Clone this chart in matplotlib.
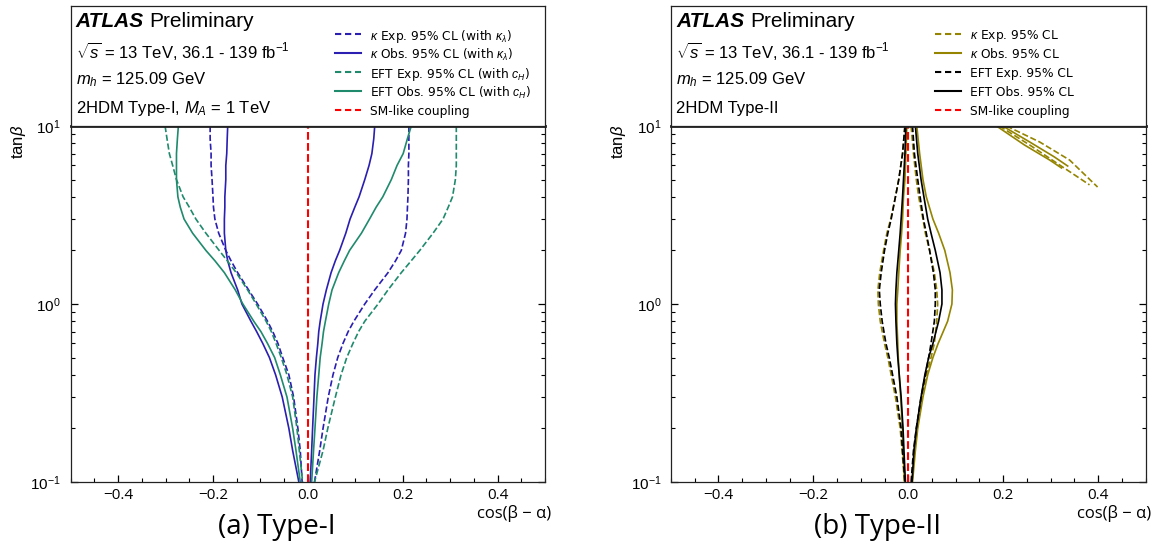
import matplotlib
matplotlib.use("Agg")
import matplotlib.pyplot as plt
from matplotlib.lines import Line2D
from matplotlib.ticker import MultipleLocator, LogLocator, NullFormatter, FixedLocator

plt.rcParams['font.family'] = ['DejaVu Sans']
plt.rcParams['mathtext.fontset'] = 'custom'
plt.rcParams['mathtext.rm'] = 'Liberation Sans'
plt.rcParams['mathtext.it'] = 'Liberation Sans:italic'
plt.rcParams['mathtext.bf'] = 'Liberation Sans:bold'
plt.rcParams['axes.unicode_minus'] = True

NARROW = ['Open Sans', 'DejaVu Sans']

# ---------------- data ----------------
# Type-I
tanb1 = [10, 8.5, 7, 6, 5, 4, 3.5, 3, 2.5, 2, 1.75, 1.5, 1.2, 1, 0.8, 0.7, 0.6, 0.5,
         0.4, 0.3, 0.2, 0.15, 0.1]
t1_kexp_lo = [-0.206, -0.206, -0.204, -0.204, -0.202, -0.200, -0.199, -0.196, -0.188, -0.173,
              -0.162, -0.148, -0.125, -0.106, -0.085, -0.074, -0.063, -0.053, -0.040, -0.030,
              -0.021, -0.016, -0.012]
t1_kexp_hi = [0.213, 0.213, 0.213, 0.212, 0.212, 0.211, 0.210, 0.209, 0.206, 0.197,
              0.185, 0.169, 0.141, 0.120, 0.097, 0.085, 0.074, 0.063, 0.053, 0.043,
              0.032, 0.025, 0.014]
t1_kobs_lo = [-0.169, -0.170, -0.171, -0.173, -0.173, -0.175, -0.175, -0.176, -0.176, -0.173,
              -0.169, -0.162, -0.148, -0.139, -0.120, -0.108, -0.095, -0.081, -0.068, -0.054,
              -0.040, -0.032, -0.019]
t1_kobs_hi = [0.141, 0.139, 0.135, 0.129, 0.120, 0.108, 0.099, 0.089, 0.080, 0.067,
              0.058, 0.049, 0.039, 0.032, 0.026, 0.023, 0.021, 0.018, 0.015, 0.013,
              0.010, 0.008, 0.005]
t1_eexp_lo = [-0.301, -0.297, -0.292, -0.285, -0.277, -0.263, -0.250, -0.236, -0.215, -0.187,
              -0.170, -0.151, -0.127, -0.109, -0.088, -0.077, -0.067, -0.056, -0.044, -0.032,
              -0.023, -0.018, -0.011]
t1_eexp_hi = [0.313, 0.313, 0.313, 0.313, 0.311, 0.305, 0.296, 0.285, 0.264, 0.236,
              0.218, 0.197, 0.169, 0.148, 0.120, 0.107, 0.095, 0.082, 0.070, 0.058,
              0.042, 0.032, 0.014]
t1_eobs_lo = [-0.273, -0.275, -0.277, -0.277, -0.277, -0.274, -0.269, -0.261, -0.243, -0.215,
              -0.196, -0.176, -0.153, -0.137, -0.114, -0.099, -0.085, -0.070, -0.058, -0.044,
              -0.032, -0.025, -0.016]
t1_eobs_hi = [0.218, 0.210, 0.201, 0.188, 0.176, 0.158, 0.144, 0.130, 0.113, 0.088,
              0.077, 0.065, 0.051, 0.044, 0.037, 0.033, 0.030, 0.026, 0.023, 0.019,
              0.015, 0.012, 0.008]

# Type-II
tanb2 = [10, 7, 5, 4, 3, 2.5, 2, 1.5, 1.2, 1, 0.8, 0.6, 0.5, 0.4, 0.3, 0.2, 0.15, 0.1]
t2_kexp_lo = [-0.007, -0.012, -0.020, -0.027, -0.037, -0.045, -0.052, -0.060, -0.064, -0.063,
              -0.059, -0.050, -0.043, -0.036, -0.027, -0.017, -0.013, -0.008]
t2_kexp_hi = [0.006, 0.011, 0.017, 0.022, 0.031, 0.036, 0.045, 0.055, 0.060, 0.062,
              0.060, 0.055, 0.048, 0.038, 0.029, 0.019, 0.013, 0.008]
t2_kobs_lo = [-0.003, -0.005, -0.007, -0.010, -0.012, -0.014, -0.017, -0.020, -0.022, -0.024,
              -0.024, -0.022, -0.021, -0.019, -0.016, -0.012, -0.011, -0.008]
t2_kobs_hi = [0.018, 0.024, 0.031, 0.038, 0.052, 0.064, 0.077, 0.088, 0.093, 0.092,
              0.083, 0.063, 0.052, 0.041, 0.031, 0.020, 0.015, 0.009]
t2_eexp_lo = [-0.007, -0.012, -0.020, -0.027, -0.036, -0.043, -0.050, -0.057, -0.061, -0.059,
              -0.055, -0.047, -0.040, -0.033, -0.024, -0.015, -0.012, -0.007]
t2_eexp_hi = [0.009, 0.013, 0.020, 0.025, 0.032, 0.038, 0.045, 0.053, 0.057, 0.057,
              0.055, 0.048, 0.043, 0.036, 0.027, 0.017, 0.011, 0.006]
t2_eobs_lo = [-0.005, -0.007, -0.010, -0.012, -0.015, -0.017, -0.020, -0.024, -0.026, -0.027,
              -0.026, -0.024, -0.022, -0.019, -0.015, -0.011, -0.009, -0.006]
t2_eobs_hi = [0.015, 0.020, 0.027, 0.033, 0.041, 0.048, 0.057, 0.067, 0.071, 0.071,
              0.064, 0.052, 0.043, 0.035, 0.027, 0.017, 0.012, 0.008]

# Type-II, isolated allowed band at large cos(beta-alpha)
t2_kexp_a_x = [0.207, 0.277, 0.340, 0.399]
t2_kexp_a_y = [10.0, 8.13, 6.44, 4.54]
t2_kexp_b_x = [0.192, 0.256, 0.319, 0.382]
t2_kexp_b_y = [10.0, 7.82, 6.04, 4.67]
t2_kobs_a_x = [0.186, 0.245, 0.298, 0.323]
t2_kobs_a_y = [10.0, 7.82, 6.44, 5.81]
t2_kobs_b_x = [0.199, 0.256, 0.308, 0.336]
t2_kobs_b_y = [10.0, 8.13, 6.70, 5.96]

sm_x = [0.0, 0.0]
sm_y = [0.1, 10]

BLUE = '#2a1fb0'
GREEN = '#1f8a6c'
GOLD = '#948400'
BLACK = 'black'
RED = 'red'
LW = 1.2

# ---------------- figure ----------------
fig = plt.figure(figsize=(11.61, 5.45), dpi=100)

W, H = 1161.0, 545.0


def frac_rect(x0, y0, x1, y1):
    return [x0 / W, 1 - y1 / H, (x1 - x0) / W, (y1 - y0) / H]


panels = [
    dict(left=70.7, right=545.0, caption='(a) Type-I', cap_x=277,
         model='2HDM Type-I, $M_A$ = 1 TeV',
         labels=[r'$\kappa$ Exp. 95% CL (with $\kappa_{\lambda}$)',
                 r'$\kappa$ Obs. 95% CL (with $\kappa_{\lambda}$)',
                 r'EFT Exp. 95% CL (with $c_H$)',
                 r'EFT Obs. 95% CL (with $c_H$)',
                 'SM-like coupling'],
         colors=[BLUE, BLUE, GREEN, GREEN, RED],
         styles=['--', '-', '--', '-', '--']),
    dict(left=671.0, right=1145.5, caption='(b) Type-II', cap_x=878,
         model='2HDM Type-II',
         labels=[r'$\kappa$ Exp. 95% CL',
                 r'$\kappa$ Obs. 95% CL',
                 'EFT Exp. 95% CL',
                 'EFT Obs. 95% CL',
                 'SM-like coupling'],
         colors=[GOLD, GOLD, BLACK, BLACK, RED],
         styles=['--', '-', '--', '-', '--']),
]

legend_rows_px = [34, 53, 72, 91, 109.5]
BOX_TOP, BOX_BOT = 6.0, 126.0

axes = []
for i, p in enumerate(panels):
    ax = fig.add_axes(frac_rect(p['left'], 126, p['right'], 482))
    box = fig.add_axes(frac_rect(p['left'], BOX_TOP, p['right'], BOX_BOT))
    box.set_xlim(0, p['right'] - p['left'])
    box.set_ylim(BOX_BOT - BOX_TOP, 0)
    axes.append(ax)

    ax.set_yscale('log')
    ax.set_xlim(-0.5, 0.5)
    ax.set_ylim(0.1, 10)
    ax.xaxis.set_major_locator(FixedLocator([-0.4, -0.2, 0.0, 0.2, 0.4]))
    ax.xaxis.set_minor_locator(MultipleLocator(0.05))
    ax.yaxis.set_major_locator(LogLocator(base=10, numticks=5))
    ax.yaxis.set_minor_locator(LogLocator(base=10, subs=range(2, 10), numticks=20))
    ax.yaxis.set_minor_formatter(NullFormatter())
    ax.tick_params(which='both', direction='in', right=True, top=False)
    ax.tick_params(which='major', length=5, width=0.9)
    ax.tick_params(which='minor', length=3, width=0.8)
    ax.tick_params(axis='x', which='major', pad=4)
    ax.tick_params(axis='y', which='major', pad=7, labelsize=11)
    for lab in ax.get_xticklabels():
        lab.set_family(NARROW)
        lab.set_fontsize(11)
    for lab in ax.get_yticklabels():
        lab.set_family(['Liberation Sans', 'DejaVu Sans'])
    for s in ['left', 'right', 'bottom']:
        ax.spines[s].set_linewidth(0.9)
        ax.spines[s].set_color('#222222')
    ax.spines['top'].set_linewidth(2.0)
    ax.spines['top'].set_color('#222222')
    ax.spines['top'].set_zorder(10)

    box.set_xticks([])
    box.set_yticks([])
    for s in box.spines.values():
        s.set_linewidth(0.9)
        s.set_color('#222222')

    # texts in box
    t = box.text(0.011, 0.87, 'ATLAS', transform=box.transAxes, fontsize=15,
                 fontweight='bold', fontstyle='italic', family='Liberation Sans',
                 va='center', ha='left')
    fig.canvas.draw()
    bb = t.get_window_extent().transformed(box.transAxes.inverted())
    box.text(bb.x1 + 0.012, 0.87, 'Preliminary', transform=box.transAxes, fontsize=15,
             family='Liberation Sans', va='center', ha='left')
    box.text(0.011, 0.625, r'$\sqrt{s}$ = 13 TeV, 36.1 - 139 fb$^{-1}$', transform=box.transAxes,
             fontsize=12, family='Liberation Sans', va='center', ha='left')
    box.text(0.011, 0.39, r'$m_h$ = 125.09 GeV', transform=box.transAxes,
             fontsize=12, family='Liberation Sans', va='center', ha='left')
    box.text(0.011, 0.15, p['model'], transform=box.transAxes,
             fontsize=12, family='Liberation Sans', va='center', ha='left')

    # legend drawn row by row (box data units are pixels from box top-left)
    hx0, hx1, tx = 264.3, 290.3, 299.3
    for row, lab, c, st in zip(legend_rows_px, p['labels'], p['colors'], p['styles']):
        yy = row - BOX_TOP
        box.add_line(Line2D([hx0, hx1], [yy, yy], color=c, ls=st, lw=1.5,
                            dashes=(3.0, 1.8) if st == '--' else (None, None)))
        box.text(tx, yy, lab, fontsize=8.8, va='center_baseline', ha='left',
                 family='DejaVu Sans')

    fig.text(p['cap_x'] / W, 1 - 527 / H, p['caption'],
             fontsize=20, family=NARROW, ha='center', va='center')
    fig.text((p['right'] + 6) / W, 1 - 513 / H, 'cos(β − α)', fontsize=12,
             family=NARROW, ha='right', va='center')
    fig.text((p['left'] - 52) / W, 1 - 142 / H, r'tan$\beta$', fontsize=12, rotation=90,
             family='Liberation Sans', ha='center', va='center')

axA, axB = axes

# Type-I curves
for xs, c, st in [(t1_kexp_lo, BLUE, '--'), (t1_kexp_hi, BLUE, '--'),
                  (t1_kobs_lo, BLUE, '-'), (t1_kobs_hi, BLUE, '-'),
                  (t1_eexp_lo, GREEN, '--'), (t1_eexp_hi, GREEN, '--'),
                  (t1_eobs_lo, GREEN, '-'), (t1_eobs_hi, GREEN, '-')]:
    axA.plot(xs, tanb1, color=c, ls=st, lw=LW)
axA.plot(sm_x, sm_y, color=RED, ls='--', lw=1.5)

# Type-II curves
for xs, c, st in [(t2_kexp_lo, GOLD, '--'), (t2_kexp_hi, GOLD, '--'),
                  (t2_kobs_lo, GOLD, '-'), (t2_kobs_hi, GOLD, '-'),
                  (t2_eexp_lo, BLACK, '--'), (t2_eexp_hi, BLACK, '--'),
                  (t2_eobs_lo, BLACK, '-'), (t2_eobs_hi, BLACK, '-')]:
    axB.plot(xs, tanb2, color=c, ls=st, lw=LW)
for xs, ys, st in [(t2_kexp_a_x, t2_kexp_a_y, '--'), (t2_kexp_b_x, t2_kexp_b_y, '--'),
                   (t2_kobs_a_x, t2_kobs_a_y, '-'), (t2_kobs_b_x, t2_kobs_b_y, '-')]:
    axB.plot(xs, ys, color=GOLD, ls=st, lw=LW)
axB.plot(sm_x, sm_y, color=RED, ls='--', lw=1.5)

fig.savefig('out.png', dpi=100)
